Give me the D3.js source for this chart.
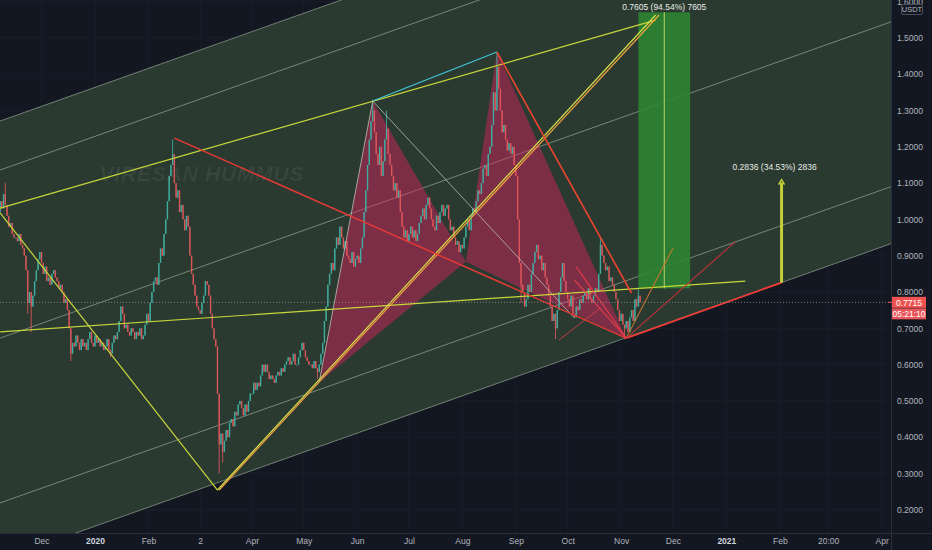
<!DOCTYPE html>
<html><head><meta charset="utf-8">
<script src="https://cdn.jsdelivr.net/npm/d3@7"></script>
<style>body{margin:0;background:#131722;overflow:hidden}svg{display:block}</style>
</head><body><svg id="c" width="932" height="550"></svg>
<script>
// ---------- DATA ----------
const startDate = "2019-11-06";
const closes = [
1.02,1.05,1.03,1.07,1.04,1.01,0.98,0.99,0.96,0.95,
0.95,0.94,0.96,0.93,0.92,0.90,0.86,0.77,0.80,0.76,
0.79,0.83,0.86,0.89,0.91,0.88,0.85,0.87,0.83,0.84,
0.82,0.85,0.86,0.84,0.83,0.81,0.82,0.80,0.77,0.78,
0.75,0.70,0.63,0.66,0.65,0.68,0.66,0.64,0.67,0.65,
0.66,0.64,0.67,0.69,0.66,0.65,0.68,0.66,0.67,0.65,
0.66,0.64,0.65,0.67,0.64,0.63,0.66,0.68,0.67,0.69,
0.72,0.76,0.74,0.70,0.71,0.69,0.68,0.70,0.69,0.67,
0.69,0.68,0.70,0.67,0.68,0.71,0.74,0.72,0.77,0.80,
0.83,0.84,0.82,0.88,0.92,0.90,0.96,1.00,1.05,1.12,
1.15,1.18,1.10,1.06,1.08,1.02,1.04,1.00,0.97,1.01,
0.98,0.90,0.85,0.82,0.79,0.76,0.75,0.74,0.77,0.79,
0.83,0.82,0.79,0.74,0.70,0.67,0.65,0.52,0.38,0.41,
0.36,0.39,0.42,0.40,0.44,0.45,0.43,0.47,0.46,0.49,
0.50,0.48,0.46,0.49,0.47,0.50,0.52,0.52,0.55,0.53,
0.55,0.54,0.57,0.60,0.58,0.60,0.58,0.56,0.57,0.56,
0.55,0.57,0.58,0.57,0.59,0.58,0.60,0.61,0.62,0.60,
0.61,0.63,0.60,0.60,0.62,0.64,0.66,0.64,0.62,0.61,
0.60,0.60,0.59,0.61,0.59,0.58,0.60,0.63,0.66,0.72,
0.76,0.82,0.85,0.88,0.86,0.92,0.95,0.93,0.98,0.95,
0.92,0.94,0.90,0.89,0.88,0.91,0.87,0.89,0.90,0.88,
0.92,0.95,1.02,1.08,1.15,1.22,1.27,1.30,1.24,1.18,
1.15,1.20,1.12,1.16,1.22,1.25,1.18,1.15,1.12,1.08,
1.10,1.06,1.08,1.02,0.98,0.95,0.97,0.94,0.96,0.98,
0.95,0.97,0.94,0.96,0.99,1.01,1.03,1.00,1.04,1.06,
1.03,1.00,0.98,0.97,1.01,0.99,1.02,1.04,1.01,1.03,
1.04,1.00,0.97,0.98,0.95,0.93,0.94,0.91,0.93,0.92,
0.95,0.98,1.00,0.97,1.01,1.03,1.02,1.05,1.08,1.07,
1.10,1.14,1.15,1.12,1.18,1.20,1.26,1.35,1.30,1.42,
1.36,1.30,1.24,1.26,1.22,1.19,1.21,1.18,1.20,1.15,
1.12,1.00,0.88,0.82,0.80,0.76,0.78,0.82,0.80,0.85,
0.88,0.91,0.93,0.89,0.90,0.86,0.88,0.84,0.82,0.79,
0.76,0.72,0.74,0.70,0.75,0.80,0.84,0.88,0.83,0.80,
0.78,0.76,0.79,0.74,0.73,0.76,0.75,0.78,0.77,0.79,
0.80,0.78,0.81,0.78,0.77,0.79,0.81,0.80,0.85,0.93,
0.90,0.88,0.86,0.87,0.83,0.84,0.82,0.80,0.78,0.75,
0.72,0.74,0.71,0.70,0.72,0.69,0.73,0.75,0.72,0.78,
0.76,0.79,0.7715];
// wick extremes: [day index, high, low]
const wickExtremes = [[4,1.10,null],[17,null,0.74],[19,null,0.69],[42,null,0.61],[65,null,0.62],
 [101,1.22,null],[128,null,0.30],[130,null,0.33],[185,null,0.56],[217,1.33,null],[225,1.30,null],
 [289,1.46,null],[303,null,0.77],[323,null,0.67],[349,0.95,null],[363,null,0.67],[371,0.81,null]];
const lastPrice = 0.7715;
const countdown = "05:21:10";

const xTickDates = ["2019-12-01","2020-01-01","2020-02-01","2020-03-02","2020-04-01","2020-05-01","2020-06-01","2020-07-01","2020-08-01","2020-09-01","2020-10-01","2020-11-01","2020-12-01","2021-01-01","2021-02-01","2021-03-01","2021-04-01"];
const xTickLabels = ["Dec","2020","Feb","2","Apr","May","Jun","Jul","Aug","Sep","Oct","Nov","Dec","2021","Feb","20:00","Apr"];
const yTickValues = [0.2,0.3,0.4,0.5,0.6,0.7,0.8,0.9,1.0,1.1,1.2,1.3,1.4,1.5,1.6];

// parallel channel: [date, price] anchors
const channelUpper  = [["2019-11-07",1.271],["2021-04-01",2.133]];
const channelInner1 = [["2019-11-07",1.136],["2021-04-01",1.998]];
const channelMiddle = [["2019-11-07",0.673],["2021-04-01",1.535]];
const channelInner2 = [["2019-11-07",0.219],["2021-04-01",1.081]];
const channelLower  = [["2019-11-07",0.062],["2021-04-01",0.924]];

// harmonic pattern points X A B C D
const patX = ["2020-05-10",0.552];
const patA = ["2020-06-10",1.326];
const patB = ["2020-08-03",0.883];
const patC = ["2020-08-21",1.461];
const patD = ["2020-11-04",0.673];

// trend lines
const yellowLeftArm  = [["2019-11-07",1.018],["2020-03-12",0.2545]];
const yellowTop      = [["2019-11-07",1.031],["2020-11-21",1.549]];
const yellowDiagA    = [["2020-03-12",0.2545],["2020-11-21",1.563]];
const orangeDiagB    = [["2020-03-13",0.2545],["2020-11-23",1.563]];
const yellowFlat     = [["2019-11-07",0.690],["2021-01-12",0.830]];
const redFebToD      = [["2020-02-16",1.224],patD];
const redCDown       = [patC,["2020-11-07",0.797]];
const redBottom      = [patD,["2021-02-02",0.826]];
const cyanAC         = [patA,patC];
const greyXA         = [patX,patA];
const greyAdown      = [patA,["2020-10-05",0.728]];
const fanOrange      = [patD,["2020-12-01",0.921]];
const fanRed         = [patD,["2021-01-06",0.938]];
const inRed1         = [["2020-10-06",0.869],patD];
const inRed2         = [["2020-10-05",0.833],patD];
const shortRed       = [["2020-09-26",0.668],["2020-10-20",0.756]];

// targets
const targetBox = {from:"2020-11-11", to:"2020-12-11", low:0.81, high:1.5705, mid:"2020-11-26", label:"0.7605 (94.54%) 7605"};
const arrowTarget = {date:"2021-02-02", low:0.826, high:1.1096, label:"0.2836 (34.53%) 2836"};
const watermark = "VIRESAN HUMMUS";

// ---------- CHART ----------
const PW = 891, PH = 533;
const FONT = "Liberation Sans, Arial, sans-serif";
const parse = d3.utcParse("%Y-%m-%d");
const x = d3.scaleUtc().domain([parse("2020-01-01"), parse("2021-01-01")]).range([95, 95 + 366*1.725]);
const y = d3.scaleLinear().domain([0.2, 1.5]).range([509.8, 37.9]);
const P = p => [x(parse(p[0])), y(p[1])];

const svg = d3.select("#c");
svg.append("rect").attr("width",932).attr("height",550).attr("fill","#131722");
svg.append("defs").append("clipPath").attr("id","clip").append("rect").attr("width",PW).attr("height",PH);
const g = svg.append("g").attr("clip-path","url(#clip)");

// grid
g.selectAll(".vg").data(xTickDates).join("line").attr("x1",d=>x(parse(d))).attr("x2",d=>x(parse(d)))
 .attr("y1",0).attr("y2",PH).attr("stroke","#1a1e2a").attr("stroke-width",1);
g.selectAll(".hg").data(yTickValues).join("line").attr("x1",0).attr("x2",PW)
 .attr("y1",d=>y(d)).attr("y2",d=>y(d)).attr("stroke","#1a1e2a").attr("stroke-width",1);

function extend(line, x0, x1){
  const [a,b] = [P(line[0]), P(line[1])];
  const k = (b[1]-a[1])/(b[0]-a[0]);
  return [[x0, a[1]+k*(x0-a[0])],[x1, a[1]+k*(x1-a[0])]];
}
const up = extend(channelUpper,-50,950), lo = extend(channelLower,-50,950);
g.append("path").attr("d", d3.line()([up[0],up[1],lo[1],lo[0]]) + "Z").attr("fill","#2b3a31");

[channelUpper,channelInner1,channelMiddle,channelInner2,channelLower].forEach(l=>{
  g.append("path").attr("d", d3.line()(extend(l,-50,950))).attr("stroke","#a9b8a4").attr("stroke-opacity",0.6).attr("stroke-width",1).attr("fill","none");
});

// watermark
g.append("text").attr("x",x(parse("2019-12-01"))+58).attr("y",y(1.105)).text(watermark)
 .attr("font-family",FONT).attr("font-size",21).attr("font-weight","bold")
 .attr("font-style","italic").attr("fill","#ffffff").attr("fill-opacity",0.06).attr("textLength",204);

// pink harmonic
[[patX,patA,patB],[patB,patC,patD]].forEach(t=>{
  g.append("path").attr("d", d3.line()(t.map(P))+"Z").attr("fill","#e91e63").attr("fill-opacity",0.42);
});

// candles
const start = parse(startDate);
const candles = closes.map((c,i)=>{
  const o = i>0 ? closes[i-1] : 1.00;
  return {d:d3.utcDay.offset(start,i), o, c, h:Math.max(o,c), l:Math.min(o,c)};
});
wickExtremes.forEach(([i,h,l])=>{ if(h!=null) candles[i].h=h; if(l!=null) candles[i].l=l; });
const cg = g.append("g");
cg.selectAll("line").data(candles).join("line")
 .attr("x1",d=>x(d.d)).attr("x2",d=>x(d.d)).attr("y1",d=>y(d.h)).attr("y2",d=>y(d.l))
 .attr("stroke",d=>d.c>=d.o?"#3fb0a2":"#e0575c").attr("stroke-width",1).attr("stroke-opacity",0.85);
cg.selectAll("rect").data(candles).join("rect")
 .attr("x",d=>x(d.d)-0.7).attr("width",1.4).attr("y",d=>y(Math.max(d.o,d.c)))
 .attr("height",d=>Math.max(1,Math.abs(y(d.o)-y(d.c))))
 .attr("fill",d=>d.c>=d.o?"#3fb0a2":"#e0575c").attr("fill-opacity",0.85);

// green target box
g.append("rect").attr("x",x(parse(targetBox.from))).attr("width",x(parse(targetBox.to))-x(parse(targetBox.from)))
 .attr("y",y(targetBox.high)).attr("height",y(targetBox.low)-y(targetBox.high)).attr("fill","#2c8532").attr("fill-opacity",0.88);
g.append("line").attr("x1",x(parse(targetBox.mid))).attr("x2",x(parse(targetBox.mid)))
 .attr("y1",y(targetBox.low)).attr("y2",y(targetBox.high)).attr("stroke","#b5d36a").attr("stroke-width",1);

// lines
function seg(l, color, w, op){
  g.append("path").attr("d", d3.line()(l.map(P))).attr("stroke",color).attr("stroke-width",w)
   .attr("stroke-opacity",op==null?1:op).attr("fill","none");
}
seg(greyXA,"#b9c2b5",1,0.8);
seg(greyAdown,"#c9cdc6",1,0.7);
seg(yellowLeftArm,"#c8d63c",1.2);
seg(yellowTop,"#c8d63c",1.2);
seg(yellowFlat,"#c8d63c",1.2);
seg(yellowDiagA,"#d4e04a",1.2);
seg(orangeDiagB,"#f0a040",1.2);
seg(cyanAC,"#3fc6d6",1.2);
seg(redFebToD,"#e53935",1.5);
seg(redCDown,"#f0442e",1.6);
seg(redBottom,"#ef3b36",1.8);
seg(fanOrange,"#d9772e",1.1,0.85);
seg(fanRed,"#c9303a",1.2,0.9);
seg(inRed1,"#e83c4c",1.2,0.9);
seg(inRed2,"#e83c4c",1.2,0.9);
seg(shortRed,"#e83c4c",1,0.8);

// arrow target
const ax = x(parse(arrowTarget.date));
g.append("line").attr("x1",ax).attr("x2",ax).attr("y1",y(arrowTarget.low)).attr("y2",y(arrowTarget.high)+3)
 .attr("stroke","#c5cf3a").attr("stroke-width",3);
g.append("path").attr("d",`M${ax-3},${y(arrowTarget.high)+5}L${ax},${y(arrowTarget.high)}L${ax+3},${y(arrowTarget.high)+5}`)
 .attr("stroke","#c5cf3a").attr("stroke-width",1.5).attr("fill","none");
g.append("text").attr("x",ax-7).attr("y",y(arrowTarget.high)-10).attr("text-anchor","middle").text(arrowTarget.label)
 .attr("font-family",FONT).attr("font-size",8.5).attr("fill","#e8ebe6");
g.append("text").attr("x",x(parse(targetBox.mid))).attr("y",y(targetBox.high)-2.5).attr("text-anchor","middle").text(targetBox.label)
 .attr("font-family",FONT).attr("font-size",8.5).attr("fill","#e8ebe6");

// last price dotted line
g.append("line").attr("x1",0).attr("x2",PW).attr("y1",y(lastPrice)).attr("y2",y(lastPrice))
 .attr("stroke","#9a8f93").attr("stroke-width",1).attr("stroke-dasharray","1,2").attr("stroke-opacity",0.8);

// axes frame
svg.append("line").attr("x1",PW+0.5).attr("x2",PW+0.5).attr("y1",0).attr("y2",550).attr("stroke","#2a2e39");
svg.append("line").attr("x1",0).attr("x2",932).attr("y1",PH+0.5).attr("y2",PH+0.5).attr("stroke","#2a2e39");

const yAxis = d3.axisRight(y).tickValues(yTickValues).tickFormat(d3.format(".4f")).tickSize(0).tickPadding(6);
const ya = svg.append("g").attr("transform",`translate(${PW},0)`).call(yAxis);
ya.select(".domain").remove();
ya.selectAll("text").attr("font-family",FONT).attr("font-size",8.5).attr("fill","#b2b5be");

const xAxis = d3.axisBottom(x).tickValues(xTickDates.map(parse)).tickFormat((d,i)=>xTickLabels[i]).tickSize(0).tickPadding(5);
const xa = svg.append("g").attr("transform",`translate(0,${PH})`).call(xAxis);
xa.select(".domain").remove();
xa.selectAll("text").attr("font-family",FONT).attr("font-size",8.5)
 .attr("fill",(d,i)=>/^20\d\d$/.test(xTickLabels[i])?"#d1d4dc":"#b2b5be")
 .attr("font-weight",(d,i)=>/^20\d\d$/.test(xTickLabels[i])?"bold":"normal");

// USDT badge
svg.append("rect").attr("x",901.5).attr("y",4.5).attr("width",21).attr("height",10).attr("rx",1.5)
 .attr("fill","#131722").attr("stroke","#4a4e59");
svg.append("text").attr("x",912).attr("y",12.3).attr("text-anchor","middle").text("USDT")
 .attr("font-family",FONT).attr("font-size",7.5).attr("fill","#b2b5be");

// last price labels
const ly = y(lastPrice);
svg.append("line").attr("x1",PW-3).attr("x2",PW+2).attr("y1",ly).attr("y2",ly).attr("stroke","#ef5350");
svg.append("rect").attr("x",PW+1).attr("y",ly-5.5).attr("width",34).attr("height",11).attr("fill","#ef5350");
svg.append("text").attr("x",PW+18).attr("y",ly+3.3).attr("text-anchor","middle").text(d3.format(".4f")(lastPrice))
 .attr("font-family",FONT).attr("font-size",8.5).attr("fill","#ffffff");
svg.append("rect").attr("x",PW+1).attr("y",ly+6).attr("width",34).attr("height",11).attr("fill","#e8555a");
svg.append("text").attr("x",PW+18).attr("y",ly+14.8).attr("text-anchor","middle").text(countdown)
 .attr("font-family",FONT).attr("font-size",8.5).attr("fill","#ffffff");
</script></body></html>
